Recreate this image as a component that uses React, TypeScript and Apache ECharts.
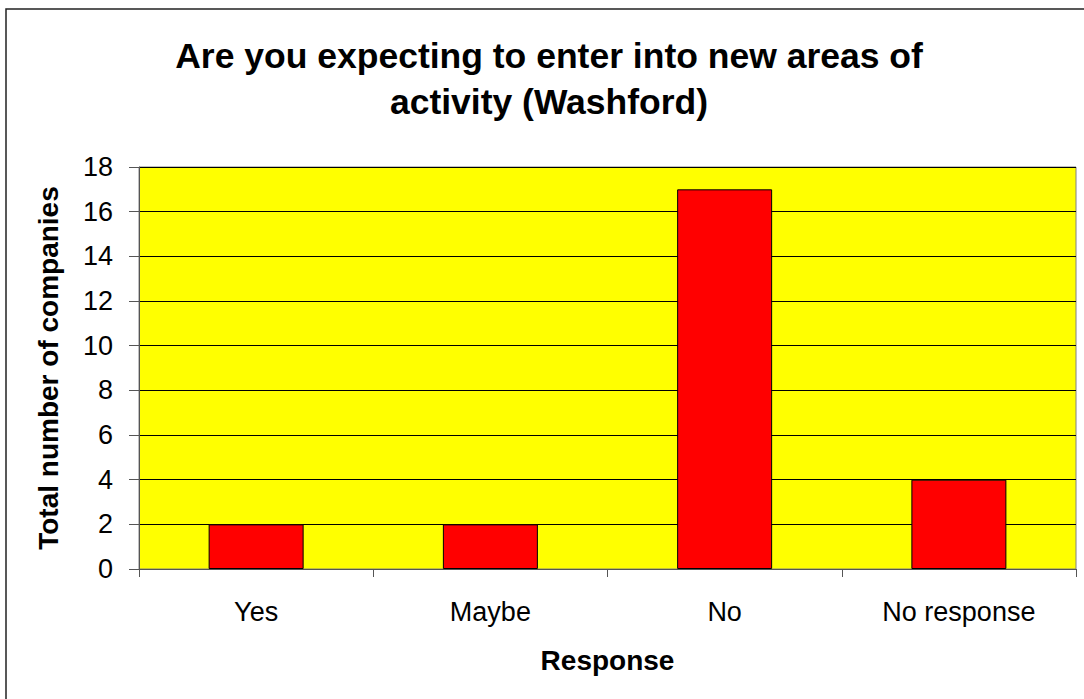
import React, { useEffect, useRef } from "react";
import * as echarts from "echarts";

const categories = ["Yes", "Maybe", "No", "No response"];
const values = [2, 2, 17, 4];
const titleText = "Are you expecting to enter into new areas of\nactivity (Washford)";
const yAxisName = "Total number of companies";
const xAxisName = "Response";

export default function App() {
  const ref = useRef<HTMLDivElement>(null);
  useEffect(() => {
    const chart = echarts.init(ref.current!, undefined, { renderer: "svg" });
    const font = "Arial, 'Liberation Sans', sans-serif";
    chart.setOption({
      animation: false,
      backgroundColor: "#ffffff",
      textStyle: { fontFamily: font },
      title: {
        text: titleText,
        left: 549,
        textAlign: "center",
        top: 33,
        padding: 0,
        textStyle: { fontSize: 35.5, fontWeight: "bold", color: "#000", lineHeight: 46, fontFamily: font },
      },
      graphic: [
        {
          type: "rect",
          shape: { x: 6, y: 9, width: 1090, height: 700 },
          style: { fill: "none", stroke: "#222", lineWidth: 1.5 },
          silent: true,
        },
      ],
      grid: {
        left: 139,
        right: 8,
        top: 167,
        bottom: 130,
        show: true,
        backgroundColor: "#ffff00",
        borderColor: "#808080",
        borderWidth: 1,
      },
      xAxis: {
        type: "category",
        data: categories,
        name: xAxisName,
        nameLocation: "middle",
        nameGap: 77,
        nameTextStyle: { fontSize: 28, fontWeight: "bold", color: "#000", fontFamily: font },
        axisLine: { show: true, lineStyle: { color: "#555", width: 1 } },
        axisTick: { show: true, length: 8, lineStyle: { color: "#555" } },
        axisLabel: { fontSize: 27, color: "#000", margin: 29, fontFamily: font },
      },
      yAxis: {
        type: "value",
        min: 0,
        max: 18,
        interval: 2,
        name: yAxisName,
        nameLocation: "middle",
        nameRotate: 90,
        nameGap: 77,
        nameTextStyle: { fontSize: 28, fontWeight: "bold", color: "#000", fontFamily: font },
        axisLine: { show: true, lineStyle: { color: "#555", width: 1 } },
        axisTick: { show: true, length: 10, lineStyle: { color: "#555" } },
        axisLabel: { fontSize: 27, color: "#000", margin: 26, fontFamily: font },
        splitLine: { show: true, lineStyle: { color: "#000", width: 1 } },
      },
      series: [
        {
          type: "bar",
          data: values,
          barWidth: 95,
          itemStyle: { color: "#ff0000", borderColor: "#000", borderWidth: 1 },
        },
      ],
    });
    return () => chart.dispose();
  }, []);
  return (
    <div
      ref={ref}
      style={{ position: "fixed", left: 0, top: 0, width: 1084, height: 699 }}
    />
  );
}
